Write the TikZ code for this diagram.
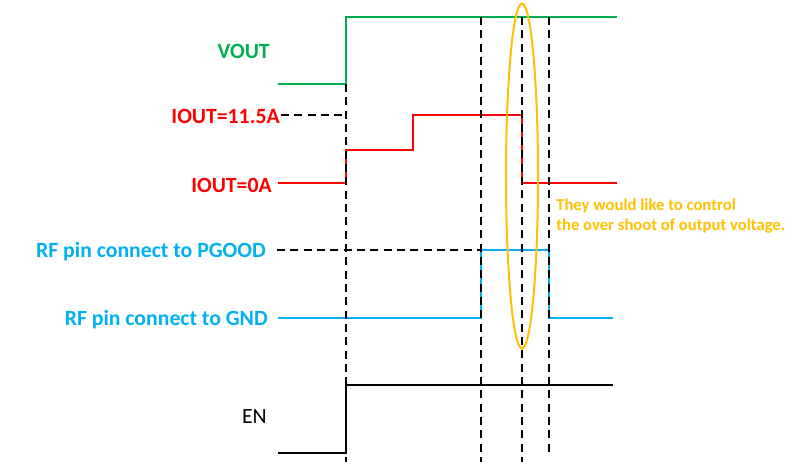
\documentclass[tikz,border=0pt]{standalone}
\usepackage{fontspec}
\setmainfont{Carlito}
\definecolor{vgreen}{RGB}{0,176,80}
\definecolor{ired}{RGB}{255,0,0}
\definecolor{rfblue}{RGB}{0,176,240}
\definecolor{note}{RGB}{255,192,0}
\begin{document}
\begin{tikzpicture}[x=0.75pt,y=-0.75pt,
  wave/.style={line width=1.5pt},
  guide/.style={line width=1.5pt,black,dash pattern=on 6pt off 4pt},
  lab/.style={anchor=base east,inner sep=0pt,font=\fontsize{16.3}{19}\selectfont\bfseries},
  notetext/.style={anchor=north west,inner sep=0pt,align=left,text=note,font=\fontsize{12.5}{15}\selectfont\bfseries}]
\useasboundingbox (0,0) rectangle (793,467);
% labels
\node[lab,text=vgreen] (lvout) at (270,59) {VOUT};
\node[lab,text=ired] (lhi) at (280,123) {IOUT=11.5A};
\node[lab,text=ired] (llo) at (272,192) {IOUT=0A};
\node[lab,text=rfblue] (lpg) at (266,257) {RF pin connect to PGOOD};
\node[lab,text=rfblue] (lgnd) at (268,325) {RF pin connect to GND};
\node[lab,font=\fontsize{16.3}{19}\selectfont] (len) at (267,423) {EN};
\node[notetext] (note) at (556,199) {They would like to control\\the over shoot of output voltage.};
% VOUT
\draw[wave,vgreen] (278,84) -- (346,84) -- (346,17) -- (617,17);
% IOUT
\draw[wave,ired] (278,183) -- (346,183) -- (346,150) -- (413,150) -- (413,115) -- (522,115) -- (522,183) -- (617,183);
% RF
\draw[wave,rfblue] (278,318) -- (481,318) -- (481,250) -- (549,250) -- (549,318) -- (613,318);
% EN
\draw[wave,black] (278,453) -- (346,453) -- (346,385) -- (613,385);
% guides
\coordinate (g0t) at (346,84);
\coordinate (g0b) at (346,462);
\draw[guide] (g0t) -- (g0b);
\draw[guide] (281,115) -- (346,115);
\draw[guide] (277,250) -- (481,250);
\draw[guide] (481,17) -- (481,462);
\draw[guide] (522,17) -- (522,462);
\draw[guide] (549,17) -- (549,454);
% ellipse
\draw[note,line width=1.5pt] (522,176) ellipse [x radius=16, y radius=172.5];
\end{tikzpicture}
\end{document}
